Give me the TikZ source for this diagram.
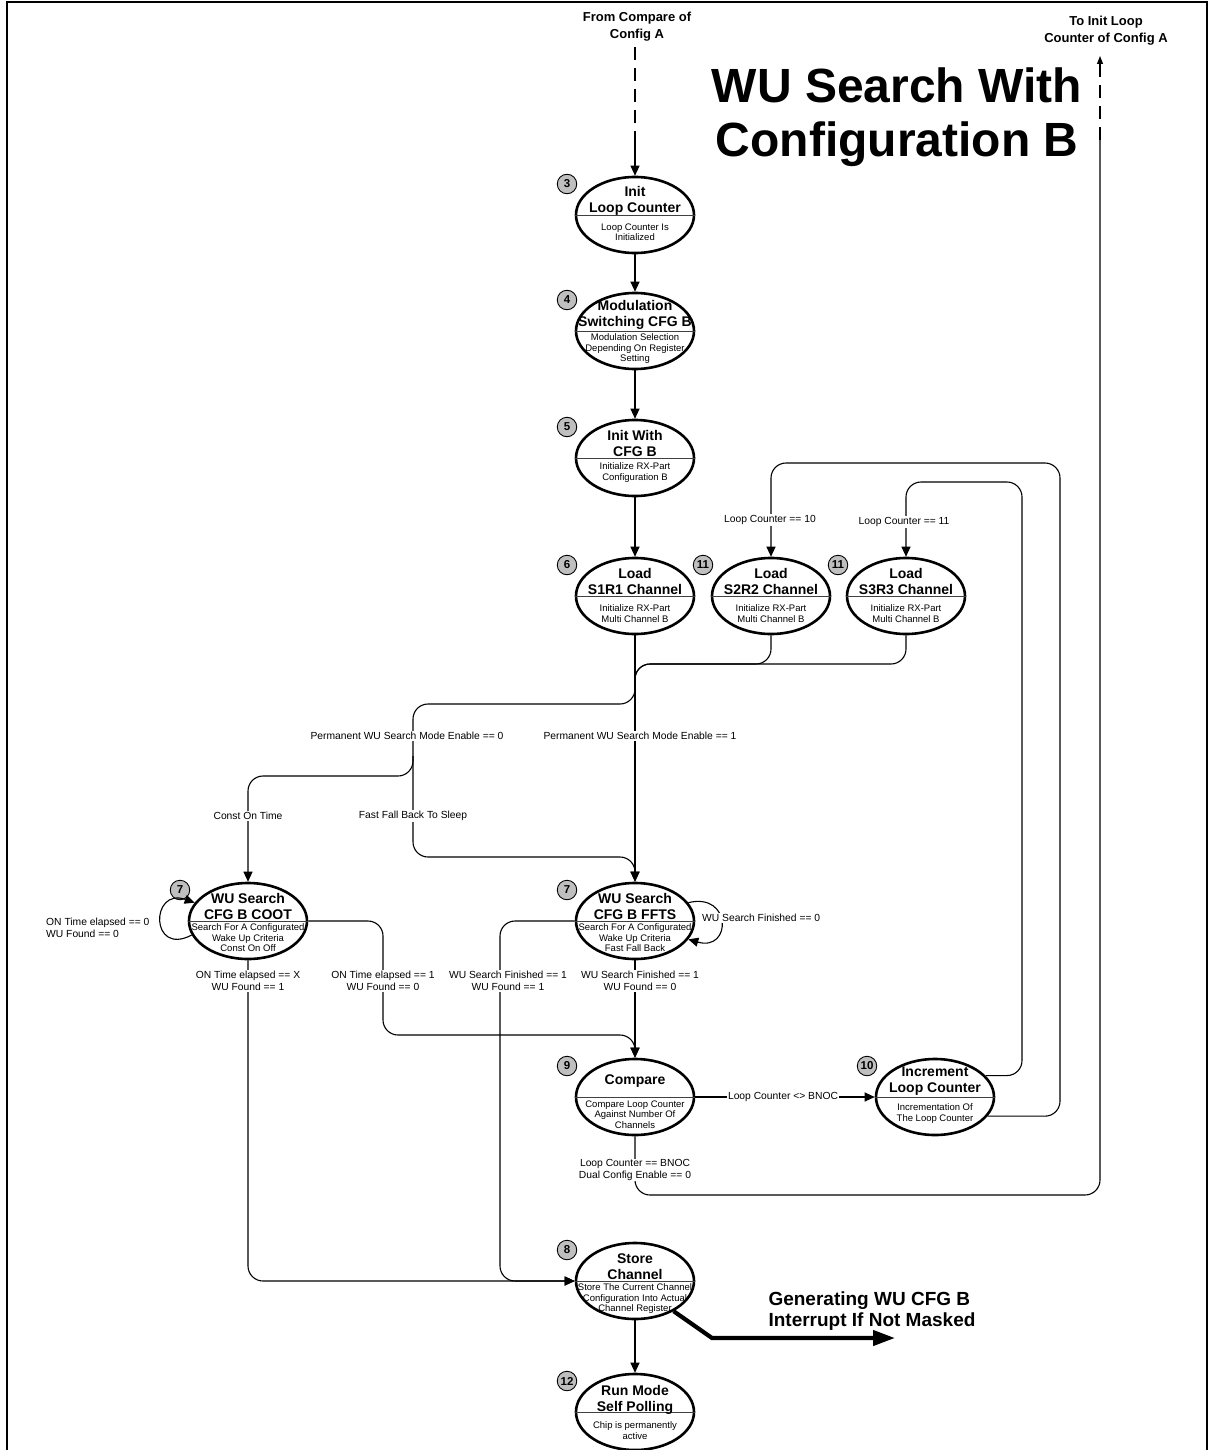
\documentclass[tikz,border=0pt]{standalone}
\usepackage{fontspec}
\setmainfont{Liberation Sans}
\usepackage{tikz}
\usetikzlibrary{arrows.meta,shapes.geometric}

\begin{document}
\begin{tikzpicture}[
  x=1pt,
  y=-1pt,
  state/.style={ellipse, draw, line width=2.6pt, minimum width=118pt,
    minimum height=76pt, inner sep=0pt},
  divider/.style={draw=black!75, line width=0.9pt},
  heading/.style={font=\fontsize{14}{16}\selectfont\bfseries, align=center,
    inner sep=0.5pt, anchor=south},
  descr/.style={font=\fontsize{9.5}{10.6}\selectfont, align=center,
    inner sep=0.5pt, anchor=north},
  badge/.style={circle, draw, line width=0.9pt, fill=black!25,
    minimum size=19.5pt, inner sep=0pt,
    font=\fontsize{11.5}{12}\selectfont\bfseries},
  wire/.style={line width=1.1pt, rounded corners=15pt},
  link/.style={wire, -{Triangle[length=10pt,width=9pt]}},
  dashlink/.style={line width=1.1pt, dash pattern=on 13pt off 8pt},
  cond/.style={font=\fontsize{10.3}{11.6}\selectfont, align=center,
    fill=white, inner sep=1pt},
  portlabel/.style={font=\fontsize{13}{17}\selectfont\bfseries, align=center}
]
  \useasboundingbox (0,0) rectangle (1210,1450);
  \draw[line width=1.4pt] (7,1450) -- (7,2) -- (1207,2) -- (1207,1450);

  \node[font=\fontsize{48}{54}\selectfont\bfseries, align=center]
    (headline) at (897,117) {WU Search With\\Configuration B};

  \foreach \nm/\sx/\sy/\num in {init/635/215/3, modsw/635/331/4,
    initb/635/458/5, load1/635/596/6, load2/771/596/11, load3/906/596/11,
    coot/248/921/7, ffts/635/921/7, compare/635/1097/9, incr/935/1097/10,
    store/635/1281/8, runmode/635/1412/12} {
    \node[state] (\nm) at (\sx,\sy) {};
    \draw[divider] (\nm.west) -- (\nm.east);
    \node[badge] (\nm-badge) at (\sx-68,\sy-31) {\num};
  }

  \node[heading] at ([yshift=-1pt]init.center) {Init\\Loop Counter};
  \node[descr] at ([yshift=-8pt]init.center) {Loop Counter Is\\Initialized};
  \node[heading] at ([yshift=1pt]modsw.center) {Modulation\\Switching CFG B};
  \node[descr] at ([yshift=-2pt]modsw.center)
    {Modulation Selection\\Depending On Register\\Setting};
  \node[heading] at ([yshift=1pt]initb.center) {Init With\\CFG B};
  \node[descr] at ([yshift=-4pt]initb.center) {Initialize RX-Part\\Configuration B};
  \node[heading] at ([yshift=1pt]load1.center) {Load\\S1R1 Channel};
  \node[descr] at ([yshift=-8pt]load1.center) {Initialize RX-Part\\Multi Channel B};
  \node[heading] at ([yshift=1pt]load2.center) {Load\\S2R2 Channel};
  \node[descr] at ([yshift=-8pt]load2.center) {Initialize RX-Part\\Multi Channel B};
  \node[heading] at ([yshift=1pt]load3.center) {Load\\S3R3 Channel};
  \node[descr] at ([yshift=-8pt]load3.center) {Initialize RX-Part\\Multi Channel B};
  \node[heading] at ([yshift=1pt]coot.center) {WU Search\\CFG B COOT};
  \node[descr] at ([yshift=-2pt]coot.center)
    {Search For A Configurated\\Wake Up Criteria\\Const On Off};
  \node[heading] at ([yshift=1pt]ffts.center) {WU Search\\CFG B FFTS};
  \node[descr] at ([yshift=-2pt]ffts.center)
    {Search For A Configurated\\Wake Up Criteria\\Fast Fall Back};
  \node[heading] at ([yshift=9pt]compare.center) {Compare};
  \node[descr] at ([yshift=-3pt]compare.center)
    {Compare Loop Counter\\Against Number Of\\Channels};
  \node[heading] at ([yshift=1pt]incr.center) {Increment\\Loop Counter};
  \node[descr] at ([yshift=-6pt]incr.center) {Incrementation Of\\The Loop Counter};
  \node[heading] at ([yshift=1pt]store.center) {Store\\Channel};
  \node[descr] at ([yshift=-2pt]store.center)
    {Store The Current Channel\\Configuration Into Actual\\Channel Register};
  \node[heading] at ([yshift=-3pt]runmode.center) {Run Mode\\Self Polling};
  \node[descr] at ([yshift=-9pt]runmode.center) {Chip is permanently\\active};

  \node[portlabel] (fromA) at (637,27) {From Compare of\\Config A};
  \node[portlabel] (toA) at (1106,31) {To Init Loop\\Counter of Config A};

  \coordinate (fromAtop) at (635,47);
  \coordinate (fromAdash) at (635,140);
  \draw[dashlink] (fromAtop) -- (fromAdash);
  \draw[link] (fromAdash) -- (init);
  \draw[link] (init) -- (modsw);
  \draw[link] (modsw) -- (initb);
  \draw[link] (initb) -- (load1);
  \draw[link] (load1) -- (ffts);

  \coordinate (merge) at (635,664);
  \coordinate (mergeend) at (635,700);
  \draw[wire] (load2) |- (merge) -- (mergeend);
  \draw[wire] (load3) |- (merge) -- (mergeend);

  \coordinate (split) at (635,684);
  \coordinate (modeleft) at (413,704);
  \coordinate (cootbranch) at (413,756);
  \coordinate (cootturn) at (413,776);
  \coordinate (fftsturn) at (413,857);
  \draw[link] (split) |- (modeleft) -- (fftsturn) -| (ffts);
  \draw[link] (cootbranch) -- (cootturn) -| (coot);

  \draw[link] (coot.194) .. controls (150,957) and (150,887) .. (coot.161);
  \draw[link] (ffts.19) .. controls (732,892) and (732,952) .. (ffts.-19);

  \coordinate (cootright) at (383,921);
  \coordinate (comparein) at (383,1035);
  \coordinate (fftsleft) at (500,921);
  \draw[link] (coot.east) -- (cootright) -- (comparein) -| (compare);
  \draw[link] (ffts) -- (compare);
  \draw[link] (coot) |- (store);
  \draw[link] (ffts.west) -- (fftsleft) |- (store);

  \draw[link] (compare) -- (incr);
  \coordinate (innerloop) at (1022,482);
  \coordinate (outerloop) at (1060,463);
  \draw[link] (incr.23) -| (innerloop) -| (load3);
  \draw[link] (incr.-20) -| (outerloop) -| (load2);

  \coordinate (exitturn) at (1100,1195);
  \coordinate (toAdash) at (1100,140);
  \coordinate (toAtip) at (1100,56);
  \draw[wire] (compare) |- (exitturn) -- (toAdash);
  \draw[dashlink, -{Triangle[length=8pt,width=6pt]}] (toAdash) -- (toAtip);

  \draw[link] (store) -- (runmode);
  \coordinate (irqbend) at (712,1338);
  \coordinate (irqtip) at (895,1338);
  \draw[line width=4.2pt, -{Triangle[length=22pt,width=15pt]}]
    (store.-38) -- (irqbend) -- (irqtip);
  \node[font=\fontsize{19}{21}\selectfont\bfseries, align=left, anchor=west]
    (irqtext) at (765,1311) {Generating WU CFG B\\Interrupt If Not Masked};

  \node[cond] at (407,736) {Permanent WU Search Mode Enable == 0};
  \node[cond] at (640,736) {Permanent WU Search Mode Enable == 1};
  \node[cond] at (248,816) {Const On Time};
  \node[cond] at (413,816) {Fast Fall Back To Sleep};
  \node[cond, fill=none, align=left, anchor=west] at (45,928)
    {ON Time elapsed == 0\\WU Found == 0};
  \node[cond, anchor=west] at (701,918) {WU Search Finished == 0};
  \node[cond] at (248,981) {ON Time elapsed == X\\WU Found == 1};
  \node[cond] at (383,981) {ON Time elapsed == 1\\WU Found == 0};
  \node[cond] at (508,981) {WU Search Finished == 1\\WU Found == 1};
  \node[cond] at (640,981) {WU Search Finished == 1\\WU Found == 0};
  \node[cond] at (783,1097) {Loop Counter <> BNOC};
  \node[cond] at (904,522) {Loop Counter == 11};
  \node[cond] at (770,520) {Loop Counter == 10};
  \node[cond] at (635,1170) {Loop Counter == BNOC\\Dual Config Enable == 0};
\end{tikzpicture}
\end{document}
